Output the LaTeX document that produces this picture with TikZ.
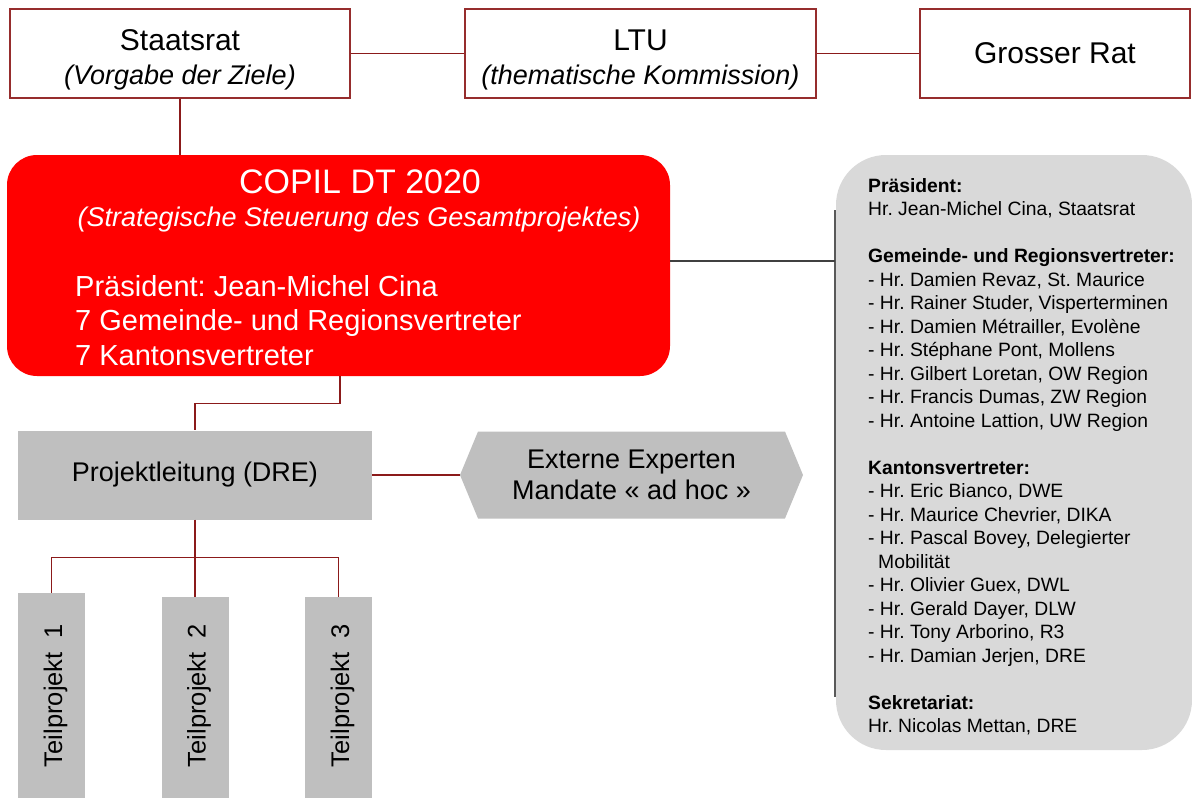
\documentclass[tikz,border=0pt]{standalone}
\usepackage{fontspec}
\setmainfont{Liberation Sans}
\usetikzlibrary{shapes.symbols}
\definecolor{linered}{RGB}{139,26,26}
\definecolor{boxred}{RGB}{150,45,45}
\definecolor{copilred}{RGB}{255,0,0}
\definecolor{projgray}{RGB}{191,191,191}
\definecolor{panelgray}{RGB}{217,217,217}
\definecolor{bracketgray}{RGB}{89,89,89}
\definecolor{darkline}{RGB}{64,64,64}
\newcommand{\fsz}[2]{\fontsize{#1}{#2}\selectfont}
\frenchspacing
\begin{document}
\begin{tikzpicture}[x=1pt,y=-1pt,
  topbox/.style={draw=boxred,line width=1.2pt,fill=white,minimum width=#1,
    minimum height=89pt,inner sep=0pt,align=center,font=\fsz{27}{34}},
  conn/.style={draw=linered,line width=1.3pt},
  graybox/.style={fill=projgray,inner sep=0pt,font=\fsz{27}{31},align=center},
  tpbox/.style={fill=projgray,inner sep=0pt,minimum width=67pt},
  tptext/.style={rotate=90,anchor=base,inner sep=0pt,font=\fsz{25.5}{30}},
  whitetxt/.style={text=white,inner sep=0pt},
]
\useasboundingbox (0,0) rectangle (1192,798);

% top row
\node[topbox=340pt] (staat) at (180,53.5)
  {{\fsz{30}{34}\rule{0pt}{32.6pt}Staatsrat}\\{\itshape (Vorgabe der Ziele)}};
\node[topbox=351pt] (ltu) at (640.5,53.5)
  {{\fsz{30}{34}\rule{0pt}{32.6pt}LTU}\\{\itshape (thematische Kommission)}};
\node[topbox=270pt,font=\fsz{30}{34}] (gross) at (1055,53.5) {Grosser Rat};
\draw[conn] (staat.east) -- (ltu.west);
\draw[conn] (ltu.east) -- (gross.west);

% right panel
\node[fill=panelgray,rounded corners=50pt,minimum width=356pt,minimum height=595pt,inner sep=0pt]
  (panel) at (1014,452.5) {};
\node[anchor=north west,inner sep=0pt,align=left,font=\fsz{19.3}{23.5}] (paneltext) at (868,178)
  {\textbf{Präsident:}\\
   Hr. Jean-Michel Cina, Staatsrat\\
   \mbox{}\\
   \textbf{Gemeinde- und Regionsvertreter:}\\
   - Hr. Damien Revaz, St. Maurice\\
   - Hr. Rainer Studer, Visperterminen\\
   - Hr. Damien Métrailler, Evolène\\
   - Hr. Stéphane Pont, Mollens\\
   - Hr. Gilbert Loretan, OW Region\\
   - Hr. Francis Dumas, ZW Region\\
   - Hr. Antoine Lattion, UW Region\\
   \mbox{}\\
   \textbf{Kantonsvertreter:}\\
   - Hr. Eric Bianco, DWE\\
   - Hr. Maurice Chevrier, DIKA\\
   - Hr. Pascal Bovey, Delegierter\\
   \hspace*{10pt}Mobilität\\
   - Hr. Olivier Guex, DWL\\
   - Hr. Gerald Dayer, DLW\\
   - Hr. Tony Arborino, R3\\
   - Hr. Damian Jerjen, DRE\\
   \mbox{}\\
   \textbf{Sekretariat:}\\
   Hr. Nicolas Mettan, DRE};
\coordinate (brkT) at (835,210);
\coordinate (brkB) at (835,697);
\draw[draw=bracketgray,line width=2pt] (brkT) -- (brkB);

% COPIL
\node[fill=copilred,rounded corners=30pt,minimum width=663pt,minimum height=221pt,inner sep=0pt]
  (copil) at (338.5,265.5) {};
\node[whitetxt,anchor=base,font=\fsz{34}{40}] (copilT) at (360,193) {COPIL DT 2020};
\node[whitetxt,anchor=base,font=\fsz{27}{32}\itshape] (copilS) at (359,226)
  {(Strategische Steuerung des Gesamtprojektes)};
\node[whitetxt,anchor=north west,align=left,font=\fsz{29}{34.5}] (copilM) at (75,275)
  {Präsident: Jean-Michel Cina\\7 Gemeinde- und Regionsvertreter\\7 Kantonsvertreter};
\draw[conn] (staat.south) -- (staat.south |- copil.north);
\draw[draw=darkline,line width=1.3pt] ([yshift=4.5pt]copil.east) -- ([yshift=4.5pt]copil.east -| brkT);

% Projektleitung and experts
\node[graybox,minimum width=354pt,minimum height=89pt] (proj) at (195,475) {Projektleitung (DRE)};
\node[graybox,shape=signal,signal to=west and east,signal pointer angle=135,
  minimum width=343pt,minimum height=87pt] (hex) at (631.5,475)
  {Externe Experten\\Mandate « ad hoc »};
\draw[conn] ([xshift=1.5pt]copil.south) -- ++(0,27) -| (proj.north);
\draw[conn] (proj.east) -- (proj.east -| hex.west);

% Teilprojekte
\node[tpbox,minimum height=205pt] (tp1) at (51.5,695.5) {};
\node[tpbox,minimum height=201pt] (tp2) at (195,697.5) {};
\node[tpbox,minimum height=201pt] (tp3) at (338.5,697.5) {};
\node[tptext] (tp1t) at ([xshift=10.5pt]tp1.center) {Teilprojekt\ \ 1};
\node[tptext] (tp2t) at ([xshift=10.5pt,yshift=2pt]tp2.center) {Teilprojekt\ \ 2};
\node[tptext] (tp3t) at ([xshift=10.5pt,yshift=2pt]tp3.center) {Teilprojekt\ \ 3};
\draw[conn] (proj.south) -- (tp2.north);
\draw[conn] (tp1.north) -- ++(0,-35) -| (tp3.north);
\end{tikzpicture}
\end{document}
